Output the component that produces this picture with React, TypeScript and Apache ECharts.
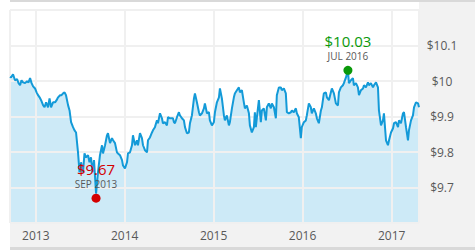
import React, { useEffect, useRef } from "react";
import * as echarts from "echarts";

// [decimal year, NAV price]
const priceHistory: [number, number][] = [
  [2012.711, 10.012], [2012.722, 10.010], [2012.745, 10.019], [2012.767, 10.002], [2012.790, 10.005],
  [2012.807, 9.994], [2012.824, 9.988], [2012.840, 10.002], [2012.857, 9.996], [2012.880, 9.994],
  [2012.902, 9.999], [2012.919, 9.996], [2012.936, 10.008], [2012.953, 9.994], [2012.970, 9.985],
  [2012.992, 9.979], [2013.009, 9.968], [2013.026, 9.960], [2013.043, 9.954], [2013.060, 9.946],
  [2013.082, 9.932], [2013.099, 9.926], [2013.116, 9.940], [2013.138, 9.926], [2013.155, 9.951],
  [2013.172, 9.926], [2013.194, 9.940], [2013.217, 9.940], [2013.234, 9.946], [2013.251, 9.954],
  [2013.273, 9.960], [2013.290, 9.960], [2013.307, 9.965], [2013.324, 9.968], [2013.340, 9.960],
  [2013.363, 9.932], [2013.380, 9.917], [2013.397, 9.884], [2013.419, 9.870], [2013.436, 9.861],
  [2013.453, 9.855], [2013.475, 9.799], [2013.492, 9.743], [2013.509, 9.771], [2013.531, 9.743],
  [2013.548, 9.796], [2013.565, 9.785], [2013.588, 9.791], [2013.604, 9.771], [2013.621, 9.785],
  [2013.638, 9.743], [2013.655, 9.777], [2013.678, 9.683], [2013.700, 9.743], [2013.722, 9.791],
  [2013.745, 9.819], [2013.756, 9.796], [2013.779, 9.819], [2013.801, 9.847], [2013.812, 9.853],
  [2013.835, 9.825], [2013.857, 9.839], [2013.869, 9.833], [2013.891, 9.825], [2013.913, 9.799],
  [2013.925, 9.796], [2013.947, 9.791], [2013.970, 9.777], [2013.981, 9.762], [2014.003, 9.754],
  [2014.026, 9.771], [2014.037, 9.796], [2014.060, 9.799], [2014.082, 9.819], [2014.093, 9.847],
  [2014.116, 9.819], [2014.138, 9.833], [2014.149, 9.819], [2014.172, 9.853], [2014.194, 9.839],
  [2014.206, 9.819], [2014.228, 9.805], [2014.251, 9.799], [2014.262, 9.833], [2014.284, 9.841],
  [2014.307, 9.855], [2014.318, 9.861], [2014.340, 9.870], [2014.363, 9.889], [2014.374, 9.881],
  [2014.397, 9.909], [2014.419, 9.895], [2014.430, 9.881], [2014.453, 9.884], [2014.475, 9.875],
  [2014.487, 9.898], [2014.509, 9.895], [2014.543, 9.895], [2014.554, 9.884], [2014.565, 9.881],
  [2014.588, 9.898], [2014.610, 9.912], [2014.621, 9.903], [2014.644, 9.895], [2014.666, 9.889],
  [2014.678, 9.870], [2014.700, 9.853], [2014.722, 9.855], [2014.734, 9.881], [2014.756, 9.903],
  [2014.779, 9.951], [2014.790, 9.965], [2014.812, 9.940], [2014.835, 9.912], [2014.846, 9.903],
  [2014.869, 9.909], [2014.891, 9.923], [2014.902, 9.937], [2014.925, 9.909], [2014.947, 9.912],
  [2014.958, 9.889], [2014.981, 9.875], [2015.003, 9.884], [2015.015, 9.912], [2015.037, 9.940],
  [2015.060, 9.954], [2015.071, 9.979], [2015.093, 9.951], [2015.116, 9.903], [2015.127, 9.889],
  [2015.149, 9.903], [2015.172, 9.875], [2015.183, 9.884], [2015.206, 9.923], [2015.228, 9.954],
  [2015.239, 9.965], [2015.262, 9.974], [2015.284, 9.982], [2015.296, 9.968], [2015.318, 9.974],
  [2015.340, 9.940], [2015.352, 9.923], [2015.374, 9.931], [2015.397, 9.909], [2015.408, 9.875],
  [2015.430, 9.855], [2015.453, 9.870], [2015.464, 9.912], [2015.475, 9.870], [2015.487, 9.898],
  [2015.509, 9.946], [2015.531, 9.884], [2015.543, 9.917], [2015.565, 9.923], [2015.588, 9.889],
  [2015.599, 9.926], [2015.621, 9.937], [2015.644, 9.923], [2015.655, 9.937], [2015.678, 9.926],
  [2015.700, 9.895], [2015.711, 9.960], [2015.734, 9.982], [2015.756, 9.982], [2015.767, 9.974],
  [2015.790, 9.979], [2015.812, 9.965], [2015.824, 9.912], [2015.846, 9.909], [2015.869, 9.912],
  [2015.880, 9.917], [2015.902, 9.912], [2015.925, 9.923], [2015.936, 9.909], [2015.958, 9.898],
  [2015.981, 9.839], [2015.992, 9.870], [2016.015, 9.884], [2016.037, 9.889], [2016.048, 9.903],
  [2016.071, 9.937], [2016.093, 9.926], [2016.104, 9.909], [2016.127, 9.923], [2016.149, 9.909],
  [2016.161, 9.895], [2016.183, 9.881], [2016.206, 9.917], [2016.217, 9.926], [2016.239, 9.965],
  [2016.262, 9.968], [2016.273, 9.954], [2016.296, 9.946], [2016.318, 9.968], [2016.329, 9.979],
  [2016.352, 9.965], [2016.374, 9.937], [2016.397, 9.931], [2016.408, 9.968], [2016.430, 9.982],
  [2016.453, 9.988], [2016.464, 9.994], [2016.487, 10.010], [2016.509, 10.030], [2016.520, 9.994],
  [2016.543, 10.002], [2016.565, 10.008], [2016.576, 9.988], [2016.599, 9.994], [2016.621, 9.982],
  [2016.633, 9.960], [2016.655, 9.974], [2016.678, 9.979], [2016.689, 9.988], [2016.711, 9.982],
  [2016.734, 9.996], [2016.745, 9.988], [2016.767, 9.994], [2016.790, 9.982], [2016.801, 9.988],
  [2016.824, 9.996], [2016.846, 9.982], [2016.857, 9.917], [2016.880, 9.875], [2016.902, 9.889],
  [2016.913, 9.909], [2016.936, 9.833], [2016.958, 9.819], [2016.970, 9.833], [2016.992, 9.855],
  [2017.015, 9.867], [2017.026, 9.881], [2017.048, 9.884], [2017.071, 9.870], [2017.082, 9.889],
  [2017.104, 9.881], [2017.127, 9.909], [2017.138, 9.912], [2017.161, 9.870], [2017.183, 9.833],
  [2017.194, 9.861], [2017.217, 9.889], [2017.239, 9.903], [2017.251, 9.926], [2017.273, 9.940],
  [2017.296, 9.937], [2017.307, 9.926],
];

const axisYears = [2012.711, 2017.307];
const priceRange = [9.6, 10.2];
const priceStep = 0.1;

const extremeYears = [2016.509, 2013.678];
const extremeValues = [10.03, 9.67];
const extremeDates = ["JUL 2016", "SEP 2013"];
const extremeColors = ["#0a990a", "#d40000"];

const FONT = "'Open Sans', 'Noto Sans', sans-serif";

function yearToTime(y: number): number {
  const yr = Math.floor(y);
  const s = Date.UTC(yr, 0, 1);
  const e = Date.UTC(yr + 1, 0, 1);
  return s + (y - yr) * (e - s);
}

export default function App() {
  const ref = useRef<HTMLDivElement>(null);

  useEffect(() => {
    if (!ref.current) return;
    const chart = echarts.init(ref.current, null, { renderer: "svg" });
    const seriesData = priceHistory.map(([y, v]) => [yearToTime(y), v]);
    const W = 475;
    const H = 250;
    const gl = 10, gt = 10, gr = 56, gb = 27;

    const markData = extremeYears.map((y, i) => ({
      coord: [yearToTime(y), extremeValues[i]],
      itemStyle: { color: extremeColors[i] },
      label: {
        formatter: `{v|$${extremeValues[i].toFixed(2)}}\n{d|${extremeDates[i]}}`,
        rich: {
          v: { color: extremeColors[i], fontSize: 15, lineHeight: 18, fontFamily: FONT, align: "center" },
          d: { color: "#595959", fontSize: 10, lineHeight: 13, fontFamily: FONT, align: "center" },
        },
      },
    }));

    chart.setOption({
      animation: false,
      useUTC: true,
      backgroundColor: "#ffffff",
      graphic: [
        { type: "rect", z: 0, silent: true, shape: { x: W - gr, y: 2, width: gr, height: H - 5 }, style: { fill: "#f2f2f2" } },
        { type: "rect", z: 0, silent: true, shape: { x: gl, y: H - gb, width: W - gl, height: gb - 3 }, style: { fill: "#f2f2f2" } },
        { type: "rect", z: 0, silent: true, shape: { x: gl, y: 0, width: W - gl, height: 2 }, style: { fill: "#d9d9d9" } },
        { type: "rect", z: 0, silent: true, shape: { x: gl, y: H - 3, width: W - gl, height: 3 }, style: { fill: "#d9d9d9" } },
      ],
      grid: { left: gl, top: gt, right: gr, bottom: gb, containLabel: false },
      xAxis: {
        type: "time",
        z: 2,
        min: yearToTime(axisYears[0]),
        max: yearToTime(axisYears[1]),
        minInterval: 365 * 86400000,
        maxInterval: 366 * 86400000,
        axisLine: { show: false },
        axisTick: { show: false },
        splitLine: { show: true, lineStyle: { color: "#f0f0f0", width: 2 } },
        axisLabel: {
          formatter: "{yyyy}",
          color: "#595959",
          fontSize: 12,
          fontFamily: FONT,
          margin: 6,
          showMinLabel: false,
          showMaxLabel: false,
        },
      },
      yAxis: {
        type: "value",
        position: "right",
        z: 2,
        min: priceRange[0],
        max: priceRange[1],
        interval: priceStep,
        axisLine: { show: false },
        axisTick: { show: false },
        splitLine: { show: true, lineStyle: { color: "#f0f0f0", width: 2 } },
        axisLabel: {
          formatter: (v: number) => "$" + String(Math.round(v * 10) / 10),
          color: "#595959",
          fontSize: 12,
          fontFamily: FONT,
          align: "center",
          margin: 23,
          showMinLabel: false,
          showMaxLabel: false,
        },
      },
      series: [
        {
          type: "line",
          z: 1,
          silent: true,
          data: seriesData,
          symbol: "none",
          lineStyle: { width: 0, opacity: 0 },
          areaStyle: { color: "#cdeaf7", opacity: 1 },
        },
        {
          type: "line",
          z: 3,
          data: seriesData,
          symbol: "none",
          lineStyle: { color: "#139ad8", width: 2 },
          markPoint: {
            symbol: "circle",
            symbolSize: 9,
            label: { show: true, position: "top", distance: 3 },
            data: markData,
          },
        },
      ],
    });
    return () => chart.dispose();
  }, []);

  return (
    <div
      ref={ref}
      style={{ position: "absolute", left: 0, top: 0, width: 475, height: 250 }}
    />
  );
}
